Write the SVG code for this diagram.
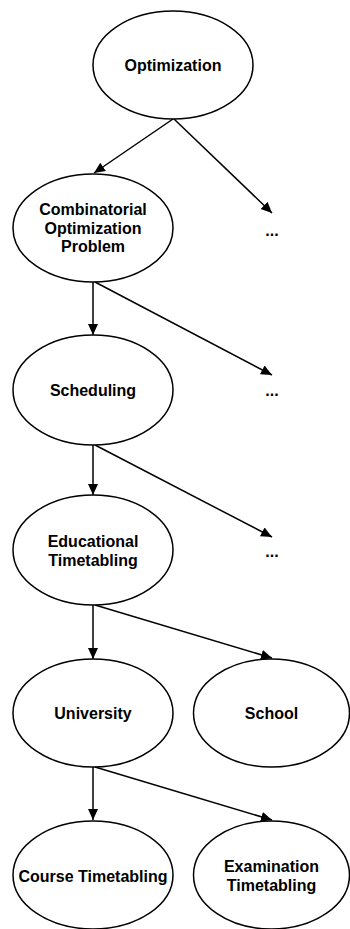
<svg xmlns="http://www.w3.org/2000/svg" width="350" height="929" viewBox="0 0 350 929">
<style>
.n{fill:#fff;stroke:#000;stroke-width:1.5}
.t{font-family:"Liberation Sans",Arial,sans-serif;font-weight:bold;font-size:16px;fill:#000;text-anchor:middle}
.c{stroke:#000;stroke-width:1.5;fill:none;marker-end:url(#ah)}
</style>
<defs>
<marker id="ah" markerUnits="userSpaceOnUse" markerWidth="12" markerHeight="12" viewBox="0 0 12 12" refX="11" refY="6" orient="auto">
<path d="M0,1 L11,6 L0,11 Z" fill="#000"/>
</marker>
</defs>
<g id="connectors">
<line class="c" x1="173" y1="119" x2="94" y2="173"/>
<line class="c" x1="174" y1="119" x2="272" y2="213"/>
<line class="c" x1="93" y1="282" x2="93" y2="335"/>
<line class="c" x1="95" y1="282" x2="272" y2="375"/>
<line class="c" x1="93" y1="445" x2="93" y2="495"/>
<line class="c" x1="95" y1="445" x2="272" y2="537"/>
<line class="c" x1="93" y1="605" x2="93" y2="659"/>
<line class="c" x1="95" y1="605" x2="272" y2="658"/>
<line class="c" x1="93" y1="767" x2="93" y2="820"/>
<line class="c" x1="95" y1="767" x2="272" y2="820"/>
</g>
<g id="optimization"><ellipse class="n" cx="173" cy="65" rx="80" ry="54"/><text class="t" x="173" y="71">Optimization</text></g>
<g id="combinatorial"><ellipse class="n" cx="93" cy="228" rx="80" ry="54"/><text class="t" x="93" y="215">Combinatorial</text><text class="t" x="93" y="233.5">Optimization</text><text class="t" x="93" y="252">Problem</text></g>
<g id="dots1"><text class="t" x="272" y="236">...</text></g>
<g id="scheduling"><ellipse class="n" cx="93" cy="390" rx="80" ry="55"/><text class="t" x="93" y="396">Scheduling</text></g>
<g id="dots2"><text class="t" x="272" y="396">...</text></g>
<g id="educational"><ellipse class="n" cx="93" cy="550" rx="80" ry="55"/><text class="t" x="93" y="547">Educational</text><text class="t" x="93" y="566">Timetabling</text></g>
<g id="dots3"><text class="t" x="272" y="557">...</text></g>
<g id="university"><ellipse class="n" cx="93" cy="713" rx="80" ry="54"/><text class="t" x="93" y="719">University</text></g>
<g id="school"><ellipse class="n" cx="271.5" cy="713" rx="78" ry="54"/><text class="t" x="271.5" y="719">School</text></g>
<g id="course"><ellipse class="n" cx="93" cy="875" rx="80" ry="54"/><text class="t" x="93" y="882">Course Timetabling</text></g>
<g id="examination"><ellipse class="n" cx="271.5" cy="875" rx="78" ry="54"/><text class="t" x="271.5" y="872">Examination</text><text class="t" x="271.5" y="891">Timetabling</text></g>
</svg>
